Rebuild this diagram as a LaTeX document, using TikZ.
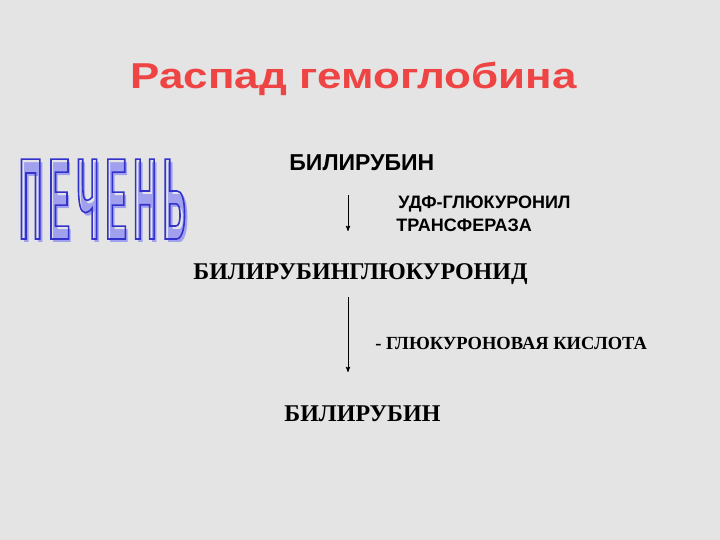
\documentclass[tikz,border=0pt]{standalone}
\usepackage{fontspec}
\setmainfont{Liberation Serif}
\setsansfont{Liberation Sans}
\newfontfamily\liverfont[FakeStretch=0.27,LetterSpace=6]{Liberation Sans Bold}
\usetikzlibrary{arrows}
\definecolor{titlered}{RGB}{238,68,68}
\definecolor{wordblue}{RGB}{51,51,204}
\definecolor{wordshade}{RGB}{160,160,238}
\definecolor{slidegray}{RGB}{228,228,228}
% contour des lettres (mode de rendu 1 = trait seul)
\newcommand\hollow[1]{\special{pdf:literal direct 1 Tr 1.6 w}#1\special{pdf:literal direct 0 Tr}}
\tikzset{
  txt/.style = {inner sep=0pt, anchor=base west},
  hdr/.style = {txt, text=titlered, transform shape, xscale=1.22,
    font=\sffamily\bfseries\fontsize{36}{36}\selectfont},
  sansbig/.style = {txt, font=\sffamily\bfseries\fontsize{23}{23}\selectfont},% arial, gros
  sanssmall/.style = {txt, font=\sffamily\bfseries\fontsize{18}{18}\selectfont},
  serifbig/.style = {txt, font=\rmfamily\bfseries\fontsize{24}{24}\selectfont},% times, gros
  serifsmall/.style = {txt, font=\rmfamily\bfseries\fontsize{18.5}{18.5}\selectfont},
  wordart/.style = {txt, font=\liverfont\fontsize{116}{116}\selectfont}
}

\begin{document}
\begin{tikzpicture}[->,>=stealth',x=1pt,y=-1pt,line width=0.9pt]
  \fill [slidegray] (0,0) rectangle (720,540);
  \useasboundingbox (0,0) rectangle (720,540);
  \node [hdr] (title) at (130,89) {Распад гемоглобина};
  \node [wordart, text=wordshade] (liver_sh) at (22,242) {ПЕЧЕНЬ};
  \node [wordart, text=wordblue] (liver) at (19,239) {\hollow{ПЕЧЕНЬ}};
  \node [sansbig] (bil_a) at (289,171) {БИЛИРУБИН};
  \node [sanssmall] (enz_a) at (398,209) {УДФ-ГЛЮКУРОНИЛ};
  \node [sanssmall] (enz_b) at (396,232) {ТРАНСФЕРАЗА};
  \node [serifbig] (bgl) at (193,279) {БИЛИРУБИНГЛЮКУРОНИД};
  \node [serifsmall] (acid) at (375,349) {- ГЛЮКУРОНОВАЯ КИСЛОТА};
  \node [serifbig] (bil_b) at (284,421) {БИЛИРУБИН};
  \coordinate (s1) at (348,195);
  \coordinate (e1) at (348,231);
  \coordinate (s2) at (348,297);
  \coordinate (e2) at (348,372);
  \draw (s1) -- (e1);
  \draw (s2) -- (e2);
\end{tikzpicture}
\end{document}
